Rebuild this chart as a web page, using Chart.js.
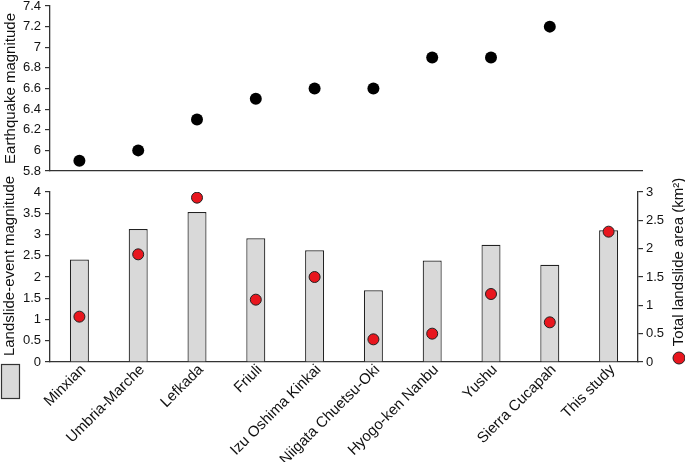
<!DOCTYPE html>
<html><head><meta charset="utf-8">
<script src="https://cdn.jsdelivr.net/npm/chart.js@4"></script>
<style>
html,body{margin:0;padding:0;background:#fff;}
#wrap{position:relative;width:685px;height:468px;overflow:hidden;background:#fff;}
canvas{position:absolute;left:0;top:0;}
</style></head><body>
<div id="wrap"><canvas id="bottomChart" width="685" height="468"></canvas><canvas id="topChart" width="685" height="468"></canvas></div>
<script>
// ---- data ----
const categories = ['Minxian','Umbria-Marche','Lefkada','Friuli','Izu Oshima Kinkai','Niigata Chuetsu-Oki','Hyogo-ken Nanbu','Yushu','Sierra Cucapah','This study'];
const earthquakeMagnitude = [5.9, 6.0, 6.3, 6.5, 6.6, 6.6, 6.9, 6.9, 7.2, null];
const landslideEventMagnitude = [2.41, 3.13, 3.53, 2.91, 2.63, 1.69, 2.39, 2.76, 2.29, 3.10];
const totalLandslideArea = [0.8, 1.9, 2.9, 1.1, 1.5, 0.4, 0.5, 1.2, 0.7, 2.3];
const earthquakeTicks = [5.8, 6, 6.2, 6.4, 6.6, 6.8, 7, 7.2, 7.4];
const magnitudeTicks = [0, 0.5, 1, 1.5, 2, 2.5, 3, 3.5, 4];
const areaTicks = [0, 0.5, 1, 1.5, 2, 2.5, 3];

// ---- layout ----
const W = 685, H = 468;
const LEFT = 50, RIGHT_BOTTOM = 638, RIGHT_TOP = 642;
const TOP_TOP = 5, TOP_BOTTOM = 171;
const BOT_TOP = 192, BOT_BOTTOM = 362;
const XAXIS_H = 100, Y2_W = 40;
const AXIS = '#333';
const FONT = '"Liberation Sans", Arial, Helvetica, sans-serif';
Chart.defaults.font.family = FONT;
Chart.defaults.color = '#111';

const catW = (RIGHT_BOTTOM - LEFT) / categories.length;
const topXMax = -0.5 + (RIGHT_TOP - LEFT) / catW;

function yAxis(min, max, ticksArr, width, extra) {
  return Object.assign({
    min: min, max: max,
    afterBuildTicks: s => { s.ticks = ticksArr.map(v => ({ value: v })); },
    ticks: { font: { size: 13 }, color: '#111', padding: 4, callback: v => String(v) },
    grid: { display: true, drawOnChartArea: false, drawTicks: true, tickLength: 5, color: AXIS, lineWidth: 1.2 },
    border: { display: true, color: AXIS, width: 1.3 },
    afterFit: s => { s.width = width; s.paddingTop = 0; s.paddingBottom = 0; }
  }, extra || {});
}

// ---- top chart: earthquake magnitude ----
new Chart(document.getElementById('topChart'), {
  type: 'scatter',
  data: {
    datasets: [{
      data: earthquakeMagnitude.map((v, i) => ({ x: i, y: v })).filter(p => p.y !== null),
      pointRadius: 6, pointHoverRadius: 6,
      backgroundColor: '#000', borderWidth: 0
    }]
  },
  options: {
    responsive: false, animation: false, devicePixelRatio: 1,
    layout: { padding: { left: 0, right: W - RIGHT_TOP, top: TOP_TOP, bottom: H - TOP_BOTTOM } },
    plugins: { legend: { display: false }, tooltip: { enabled: false } },
    scales: {
      x: {
        type: 'linear', min: -0.5, max: topXMax,
        ticks: { display: false },
        grid: { display: false },
        border: { display: true, color: AXIS, width: 1.3 },
        afterFit: s => { s.height = 0; s.paddingLeft = 0; s.paddingRight = 0; }
      },
      y: yAxis(5.8, 7.4, earthquakeTicks, LEFT, {
        title: { display: true, text: 'Earthquake magnitude', color: '#111', font: { size: 15 }, padding: { top: 2, bottom: 0 } }
      })
    }
  }
});

// ---- bottom chart: landslide-event magnitude + total landslide area ----
const extrasPlugin = {
  id: 'extras',
  afterDraw(chart) {
    const ctx = chart.ctx;
    const ca = chart.chartArea;
    ctx.save();
    ctx.fillStyle = '#111';
    ctx.font = '15px ' + FONT;
    ctx.textAlign = 'center';
    ctx.textBaseline = 'middle';
    // left title
    ctx.save();
    ctx.translate(10, ca.top + (ca.bottom - ca.top) / 2 - 11);
    ctx.rotate(-Math.PI / 2);
    ctx.fillText('Landslide-event magnitude', 0, 0);
    ctx.restore();
    // right title
    ctx.save();
    ctx.translate(679, ca.top + (ca.bottom - ca.top) / 2 - 15);
    ctx.rotate(-Math.PI / 2);
    ctx.fillText('Total landslide area (km\u00B2)', 0, 0);
    ctx.restore();
    // legend symbol: red circle (area)
    ctx.beginPath();
    ctx.arc(679, 358, 6, 0, Math.PI * 2);
    ctx.fillStyle = '#e8161e';
    ctx.fill();
    ctx.lineWidth = 1;
    ctx.strokeStyle = '#222';
    ctx.stroke();
    // legend symbol: grey bar (magnitude)
    ctx.fillStyle = '#d9d9d9';
    ctx.fillRect(1.5, 364.5, 18, 34);
    ctx.strokeStyle = '#333';
    ctx.lineWidth = 1.2;
    ctx.strokeRect(1.5, 364.5, 18, 34);
    ctx.restore();
  }
};

new Chart(document.getElementById('bottomChart'), {
  type: 'bar',
  data: {
    labels: categories,
    datasets: [
      {
        type: 'line', data: totalLandslideArea, yAxisID: 'y2', showLine: false,
        pointRadius: 5.5, pointHoverRadius: 5.5,
        pointBackgroundColor: '#e8161e', pointBorderColor: '#222', pointBorderWidth: 1,
        order: 1
      },
      {
        type: 'bar', data: landslideEventMagnitude, yAxisID: 'y',
        backgroundColor: '#d9d9d9', borderColor: '#222', borderWidth: 1.2,
        barPercentage: 0.323, categoryPercentage: 1,
        order: 2
      }
    ]
  },
  options: {
    responsive: false, animation: false, devicePixelRatio: 1,
    layout: { padding: { left: 0, right: W - RIGHT_BOTTOM - Y2_W, top: BOT_TOP, bottom: H - BOT_BOTTOM - XAXIS_H } },
    plugins: { legend: { display: false }, tooltip: { enabled: false } },
    scales: {
      x: {
        type: 'category', offset: true,
        grid: { display: false },
        border: { display: true, color: AXIS, width: 1.3 },
        ticks: { autoSkip: false, maxRotation: 45, minRotation: 45, font: { size: 15 }, color: '#111', padding: -9, labelOffset: 4 },
        afterFit: s => { s.height = XAXIS_H; s.paddingLeft = 0; s.paddingRight = 0; }
      },
      y: yAxis(0, 4, magnitudeTicks, LEFT, { position: 'left' }),
      y2: yAxis(0, 3, areaTicks, Y2_W, { position: 'right', ticks: { font: { size: 13 }, color: '#111', padding: 3, callback: v => String(v) } })
    }
  },
  plugins: [extrasPlugin]
});
</script>
</body></html>
